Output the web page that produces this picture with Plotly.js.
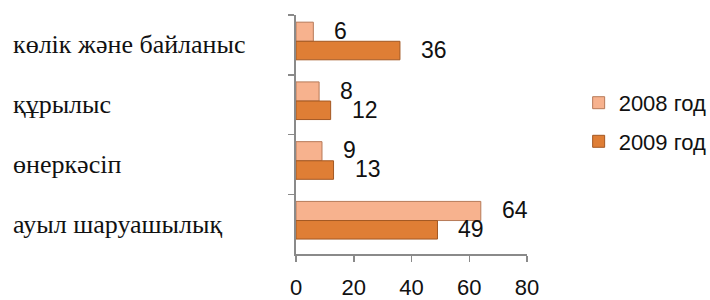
<!DOCTYPE html>
<html>
<head>
<meta charset="utf-8">
<script src="https://cdn.plot.ly/plotly-3.0.1.min.js"></script>
<style>html,body{margin:0;padding:0;background:#fff;}#chart{width:710px;height:300px;}</style>
</head>
<body>
<div id="chart"></div>
<script>
const categories = ["көлік және байланыс", "құрылыс", "өнеркәсіп", "ауыл шаруашылық"];
const values2008 = [6, 8, 9, 64];
const values2009 = [36, 12, 13, 49];
const seriesNames = ["2008 год", "2009 год"];
const xTicks = [0, 20, 40, 60, 80];

const sansFont = "Liberation Sans, Arial, sans-serif";

const traces = [
  {type: "bar", orientation: "h", name: seriesNames[0], y: categories, x: values2008,
   width: 0.32, offset: -0.38, legendgroup: "a",
   marker: {color: "#F7B28E", line: {color: "#B77A58", width: 1}}},
  {type: "bar", orientation: "h", name: seriesNames[1], y: categories, x: values2009,
   width: 0.31, offset: -0.06, legendgroup: "b",
   marker: {color: "#DF7E35", line: {color: "#A35823", width: 1}}}
];

const annotations = categories.map(c => ({
  text: c, xref: "paper", yref: "y", x: -1.232, y: c, xanchor: "left", yanchor: "middle",
  showarrow: false, font: {family: "Liberation Serif, Times New Roman, serif", size: 26, color: "#111"}
}));

function valueLabels(vals, yshift) {
  return vals.map((v, i) => ({
    text: String(v), xref: "x", yref: "y", x: v, y: categories[i],
    xanchor: "left", yanchor: "middle", xshift: 19, yshift: yshift, showarrow: false,
    font: {family: sansFont, size: 23, color: "#111"}
  }));
}

const layout = {
  width: 710, height: 300,
  margin: {l: 296, r: 183, t: 15, b: 46, autoexpand: false},
  paper_bgcolor: "#fff", plot_bgcolor: "#fff",
  barmode: "group",
  showlegend: true,
  legend: {xref: "container", yref: "container", x: 0.815, y: 0.727, xanchor: "left", yanchor: "top", traceorder: "grouped",
    font: {family: sansFont, size: 22, color: "#111"},
    itemwidth: 30, tracegroupgap: 7, bgcolor: "rgba(0,0,0,0)"},
  xaxis: {range: [0, 80], tickvals: xTicks, showgrid: false, zeroline: false,
    showline: true, linecolor: "#8a8a8a", linewidth: 1.8, ticks: "outside", ticklen: 6, tickcolor: "#8a8a8a", tickwidth: 1.5,
    ticklabelstandoff: 7,
    tickfont: {family: sansFont, size: 22, color: "#111"}},
  yaxis: {type: "category", autorange: "reversed", showticklabels: false, showgrid: false,
    showline: true, linecolor: "#8a8a8a", linewidth: 1.8, ticks: "outside", ticklen: 6, tickcolor: "#8a8a8a", tickwidth: 1.5,
    tickson: "boundaries", zeroline: false},
  annotations: annotations.concat(valueLabels(values2008, 14), valueLabels(values2009, -5))
};

Plotly.newPlot("chart", traces, layout, {displayModeBar: false, staticPlot: true});
</script>
</body>
</html>
